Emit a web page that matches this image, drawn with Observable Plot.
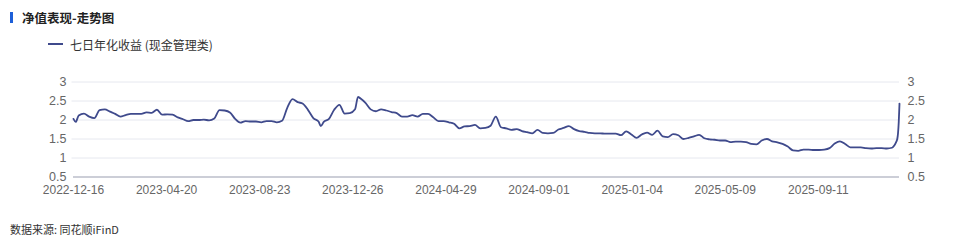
<!DOCTYPE html>
<html>
<head>
<meta charset="utf-8">
<script src="https://cdn.jsdelivr.net/npm/d3@7"></script>
<script src="https://cdn.jsdelivr.net/npm/@observablehq/plot@0.6"></script>
<style>
  html, body { margin: 0; padding: 0; background: #fff; }
  body { width: 973px; height: 247px; position: relative; overflow: hidden;
         font-family: "Noto Sans CJK SC", "Noto Sans", sans-serif; }
  #title { position: absolute; left: 10px; top: 9px; height: 16px; display: flex; align-items: center; }
  #title .bar { width: 3px; height: 11px; background: #1d5fd8; margin-right: 9px; }
  #title .txt { font-size: 12.5px; font-weight: 700; color: #222; }
  #legend { position: absolute; left: 48px; top: 36px; height: 16px; display: flex; align-items: center; }
  #legend .sw { width: 15px; height: 2.5px; background: #3f4a8c; margin-right: 7px; }
  #legend .txt { font-size: 12px; color: #333; }
  #chart { position: absolute; left: 0; top: 60px; }
  #caption { position: absolute; left: 10px; top: 221px; font-size: 11px; color: #333; }
</style>
</head>
<body>
<div id="title"><div class="bar"></div><div class="txt">净值表现-走势图</div></div>
<div id="legend"><div class="sw"></div><div class="txt">七日年化收益 (现金管理类)</div></div>
<div id="chart"></div>
<div id="caption">数据来源: 同花顺iFinD</div>
<script>
const seriesName = "七日年化收益 (现金管理类)";
const dates = [
  "2022-12-16","2022-12-19","2022-12-23","2022-12-30",
  "2023-01-06","2023-01-13","2023-01-20","2023-01-27",
  "2023-02-03","2023-02-10","2023-02-17","2023-02-24",
  "2023-03-03","2023-03-10","2023-03-17","2023-03-24","2023-03-31",
  "2023-04-07","2023-04-14","2023-04-21","2023-04-28",
  "2023-05-05","2023-05-12","2023-05-19","2023-05-26",
  "2023-06-02","2023-06-09","2023-06-16","2023-06-23","2023-06-30",
  "2023-07-07","2023-07-14","2023-07-21","2023-07-28",
  "2023-08-04","2023-08-11","2023-08-18","2023-08-25",
  "2023-09-01","2023-09-08","2023-09-15","2023-09-22","2023-09-29",
  "2023-10-06","2023-10-13","2023-10-20","2023-10-27",
  "2023-11-03","2023-11-10","2023-11-13","2023-11-17","2023-11-24",
  "2023-12-01","2023-12-08","2023-12-15","2023-12-22","2023-12-29",
  "2024-01-02","2024-01-05","2024-01-12","2024-01-19","2024-01-26",
  "2024-02-02","2024-02-09","2024-02-16","2024-02-23",
  "2024-03-01","2024-03-08","2024-03-15","2024-03-22","2024-03-29",
  "2024-04-05","2024-04-12","2024-04-19","2024-04-26",
  "2024-05-03","2024-05-10","2024-05-17","2024-05-24","2024-05-31",
  "2024-06-07","2024-06-14","2024-06-21","2024-06-28",
  "2024-07-05","2024-07-12","2024-07-19","2024-07-26",
  "2024-08-02","2024-08-09","2024-08-16","2024-08-23","2024-08-30",
  "2024-09-06","2024-09-13","2024-09-20","2024-09-27",
  "2024-10-04","2024-10-11","2024-10-18","2024-10-25",
  "2024-11-01","2024-11-08","2024-11-15","2024-11-22","2024-11-29",
  "2024-12-06","2024-12-13","2024-12-20","2024-12-27",
  "2025-01-03","2025-01-10","2025-01-17","2025-01-24","2025-01-31",
  "2025-02-07","2025-02-14","2025-02-21","2025-02-28",
  "2025-03-07","2025-03-14","2025-03-21","2025-03-28",
  "2025-04-04","2025-04-11","2025-04-18","2025-04-25",
  "2025-05-02","2025-05-09","2025-05-16","2025-05-23","2025-05-30",
  "2025-06-06","2025-06-13","2025-06-20","2025-06-27",
  "2025-07-04","2025-07-11","2025-07-18","2025-07-25",
  "2025-08-01","2025-08-08","2025-08-15","2025-08-22","2025-08-29",
  "2025-09-05","2025-09-12","2025-09-19","2025-09-26",
  "2025-10-03","2025-10-10","2025-10-17","2025-10-24","2025-10-31",
  "2025-11-07","2025-11-14","2025-11-21","2025-11-28",
  "2025-12-05","2025-12-12","2025-12-19","2025-12-22","2025-12-24",
  "2025-12-26","2025-12-27","2025-12-28","2025-12-29"
];
const values = [
  2.03,1.95,2.12,2.17,
  2.09,2.05,2.26,2.28,
  2.22,2.16,2.09,2.13,
  2.16,2.16,2.16,2.20,2.19,
  2.27,2.14,2.15,2.14,
  2.07,2.02,1.97,2.00,
  2.00,2.01,1.99,2.04,2.26,
  2.25,2.20,2.03,1.93,
  1.97,1.96,1.96,1.94,
  1.97,1.97,1.94,1.98,2.32,
  2.55,2.47,2.43,2.26,
  2.05,1.96,1.84,1.95,2.03,
  2.27,2.40,2.17,2.18,2.28,
  2.61,2.57,2.45,2.28,2.23,
  2.28,2.25,2.21,2.18,
  2.09,2.09,2.13,2.09,2.16,
  2.16,2.07,1.97,1.97,
  1.94,1.90,1.78,1.83,1.84,
  1.87,1.78,1.79,1.85,
  2.09,1.81,1.78,1.74,
  1.76,1.71,1.68,1.65,1.74,
  1.66,1.65,1.66,1.75,
  1.79,1.84,1.76,1.71,
  1.69,1.66,1.65,1.65,1.64,
  1.64,1.64,1.60,1.70,
  1.62,1.53,1.62,1.67,1.61,
  1.72,1.57,1.55,1.63,
  1.60,1.50,1.53,1.57,
  1.61,1.52,1.49,1.48,
  1.46,1.46,1.42,1.43,1.43,
  1.42,1.37,1.36,1.46,
  1.50,1.44,1.41,1.37,
  1.30,1.20,1.19,1.22,1.22,
  1.21,1.21,1.22,1.26,
  1.38,1.44,1.37,1.28,1.28,
  1.28,1.26,1.25,1.26,
  1.26,1.25,1.27,1.33,1.40,
  1.50,1.65,1.95,2.43
];
const xTickLabels = ["2022-12-16","2023-04-20","2023-08-23","2023-12-26","2024-04-29","2024-09-01","2025-01-04","2025-05-09","2025-09-11"];
const yTicks = [0.5, 1, 1.5, 2, 2.5, 3];

const parse = d3.utcParse("%Y-%m-%d");
const data = dates.map((d, i) => ({date: parse(d), value: values[i]}));
const xTicks = xTickLabels.map(parse);
const x0 = data[0].date, x1 = data[data.length - 1].date;

const tickFont = "Liberation Sans, Arial, sans-serif";
const chart = Plot.plot({
  width: 973,
  height: 140,
  marginLeft: 73,
  marginRight: 74,
  marginTop: 21.5,
  marginBottom: 23.5,
  style: {fontFamily: tickFont, fontSize: "12px", color: "#666", background: "transparent"},
  x: {type: "utc", domain: [x0, x1], label: null},
  y: {domain: [0.5, 3], label: null},
  marks: [
    Plot.ruleY(yTicks.filter(t => t > 0.5), {stroke: "#e6e8ef", strokeWidth: 1, x1: x0, x2: x1, insetLeft: -1.5}),
    Plot.axisY(yTicks, {anchor: "left", label: null, tickSize: 0, tickPadding: 7, tickFormat: d => String(d), fill: "#666", fontSize: 12.5}),
    Plot.axisY(yTicks, {anchor: "right", label: null, tickSize: 0, tickPadding: 8, tickFormat: d => String(d), fill: "#666", fontSize: 12.5}),
    Plot.axisX(xTicks, {label: null, tickSize: 0, tickPadding: 8.5, tickFormat: d3.utcFormat("%Y-%m-%d"), fill: "#666", fontSize: 12}),
    Plot.ruleY([0.5], {stroke: "#9a9eb0", strokeWidth: 1.2, x1: x0, x2: x1}),
    Plot.line(data, {x: "date", y: "value", stroke: "#3f4a8c", strokeWidth: 1.8, curve: "monotone-x"})
  ]
});
document.getElementById("chart").appendChild(chart);
</script>
</body>
</html>
